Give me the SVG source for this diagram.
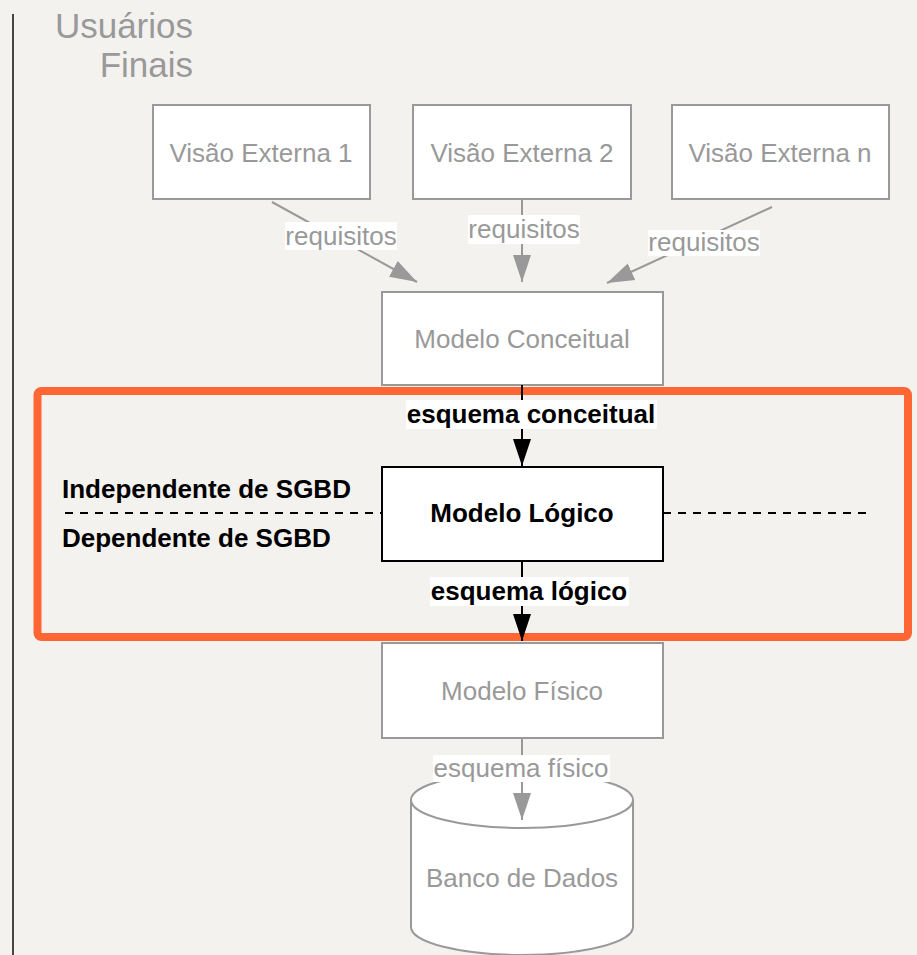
<svg xmlns="http://www.w3.org/2000/svg" width="917" height="955" viewBox="0 0 917 955">
<defs>
<marker id="ag" markerUnits="userSpaceOnUse" markerWidth="28" markerHeight="20" viewBox="0 0 28 20" refX="27" refY="10" orient="auto"><path d="M0,1 L27,10 L0,19 Z" fill="#999999"/></marker>
<marker id="ab" markerUnits="userSpaceOnUse" markerWidth="28" markerHeight="20" viewBox="0 0 28 20" refX="27" refY="10" orient="auto"><path d="M0,1 L27,10 L0,19 Z" fill="#000000"/></marker>
<style>
text{font-family:"Liberation Sans",Arial,sans-serif;}
.g{fill:#999999;font-size:26px;}
.b{fill:#000000;font-size:26px;font-weight:bold;}
.box{fill:#ffffff;stroke:#999999;stroke-width:2;}
.bbox{fill:#ffffff;stroke:#000000;stroke-width:2;}
.lg{stroke:#999999;stroke-width:2;fill:none;}
.lb{stroke:#000000;stroke-width:2;fill:none;}
.lbl{fill:#ffffff;}
.dash{stroke:#000000;stroke-width:2;stroke-dasharray:8,7;}
</style>
</defs>
<rect width="917" height="955" fill="#F4F2EF"/>
<line x1="13" y1="14" x2="13" y2="955" stroke="#444444" stroke-width="2"/>
<g id="usuarios">
<text class="g" x="193" y="38" text-anchor="end" style="font-size:35px">Usuários</text>
<text class="g" x="193" y="77" text-anchor="end" style="font-size:35px">Finais</text>
</g>
<g id="orange-frame"><rect x="37.5" y="391" width="870.5" height="246" rx="4" fill="none" stroke="#FF6633" stroke-width="8"/></g>
<g id="boundary">
<line class="dash" x1="65" y1="513" x2="382" y2="513"/>
<line class="dash" x1="663" y1="513" x2="870" y2="513"/>
<text class="b" x="62" y="498">Independente de SGBD</text>
<text class="b" x="62" y="547">Dependente de SGBD</text>
</g>
<g id="ve1"><rect class="box" x="153" y="105" width="217" height="94"/><text class="g" x="261" y="162" text-anchor="middle">Visão Externa 1</text></g>
<g id="ve2"><rect class="box" x="413" y="105" width="218" height="94"/><text class="g" x="522" y="162" text-anchor="middle">Visão Externa 2</text></g>
<g id="ven"><rect class="box" x="672" y="105" width="217" height="94"/><text class="g" x="780" y="162" text-anchor="middle">Visão Externa n</text></g>
<g id="conceitual"><rect class="box" x="382" y="292" width="281" height="93"/><text class="g" x="522" y="348" text-anchor="middle">Modelo Conceitual</text></g>
<g id="logico"><rect class="bbox" x="382" y="467" width="281" height="94"/><text class="b" x="522" y="522" text-anchor="middle">Modelo Lógico</text></g>
<g id="fisico"><rect class="box" x="382" y="643" width="281" height="95"/><text class="g" x="522" y="700" text-anchor="middle">Modelo Físico</text></g>
<g id="banco">
<path d="M411,800 L411,927 A111,28 0 0 0 633,927 L633,800" fill="#ffffff" stroke="#999999" stroke-width="2"/>
<ellipse cx="522" cy="800" rx="111" ry="28" fill="#ffffff" stroke="#999999" stroke-width="2"/>
<text class="g" x="522" y="887" text-anchor="middle">Banco de Dados</text>
</g>
<g id="connectors">
<line class="lg" x1="272" y1="202" x2="417" y2="282" marker-end="url(#ag)"/>
<rect class="lbl" x="285" y="222" width="112" height="28"/>
<text class="g" x="341" y="245" text-anchor="middle">requisitos</text>
<line class="lg" x1="522" y1="199" x2="522" y2="282" marker-end="url(#ag)"/>
<rect class="lbl" x="468" y="215" width="112" height="29"/>
<text class="g" x="524" y="238" text-anchor="middle">requisitos</text>
<line class="lg" x1="772" y1="207" x2="607" y2="283" marker-end="url(#ag)"/>
<rect class="lbl" x="648" y="230" width="112" height="26"/>
<text class="g" x="704" y="251" text-anchor="middle">requisitos</text>
<line class="lb" x1="522" y1="385" x2="522" y2="466" marker-end="url(#ab)"/>
<rect class="lbl" x="406" y="400" width="251" height="29"/>
<text class="b" x="531" y="423" text-anchor="middle">esquema conceitual</text>
<line class="lb" x1="522" y1="561" x2="522" y2="641" marker-end="url(#ab)"/>
<rect class="lbl" x="430" y="577" width="199" height="29"/>
<text class="b" x="529" y="600" text-anchor="middle">esquema lógico</text>
<line class="lg" x1="522" y1="738" x2="522" y2="820" marker-end="url(#ag)"/>
<rect class="lbl" x="433" y="755" width="177" height="27"/>
<text class="g" x="521" y="777" text-anchor="middle">esquema físico</text>
</g>
</svg>
